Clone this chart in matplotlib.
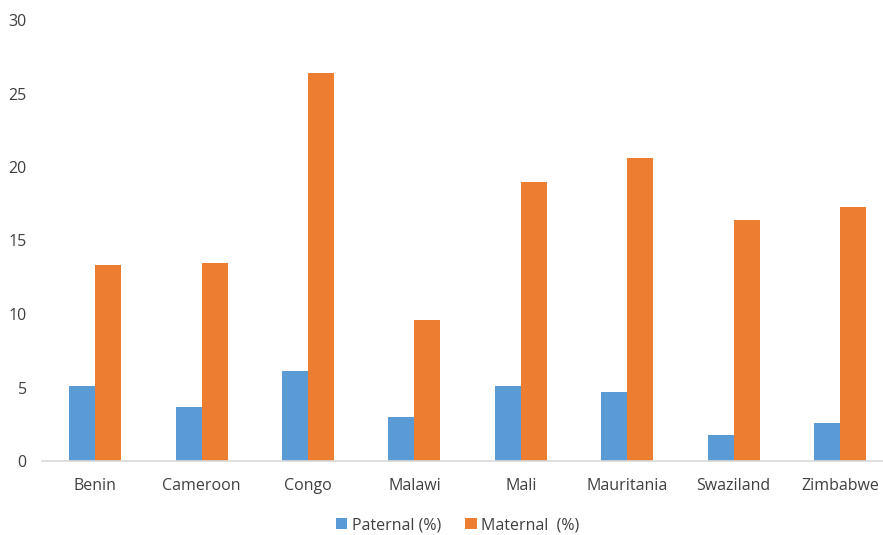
import matplotlib.pyplot as plt
import numpy as np

# Data
countries = ['Benin', 'Cameroon', 'Congo', 'Malawi', 'Mali',
             'Mauritania', 'Swaziland', 'Zimbabwe']
paternal = [5.1, 3.7, 6.1, 3.0, 5.1, 4.7, 1.8, 2.6]
maternal = [13.3, 13.5, 26.4, 9.6, 19.0, 20.6, 16.4, 17.3]

# Style
plt.rcParams['font.family'] = ['Open Sans', 'DejaVu Sans']
plt.rcParams['font.size'] = 11.5
txt_c = '#404040'
c_pat = '#5B9BD5'
c_mat = '#ED7D31'
bw = 0.245

fig = plt.figure(figsize=(8.83, 5.35), dpi=100)
# axes placed in figure pixels: left 42, right 883, bottom 461, top 20
ax = fig.add_axes([42/883, (535-461)/535, (883-42)/883, (461-20)/535])

x = np.arange(len(countries))
ax.bar(x - bw/2, paternal, bw, color=c_pat, label='Paternal (%)')
ax.bar(x + bw/2, maternal, bw, color=c_mat, label='Maternal  (%)')

ax.set_xlim(-0.5, -0.5 + (883-42)/106.4)
ax.set_ylim(0, 30)
ax.set_yticks(range(0, 31, 5))
ax.set_xticks(x)
ax.set_xticklabels(countries)

for s in ['top', 'right', 'left']:
    ax.spines[s].set_visible(False)
ax.spines['bottom'].set_color('#D9D9D9')
ax.spines['bottom'].set_linewidth(1.2)
ax.tick_params(axis='both', length=0, colors=txt_c, labelsize=11.5)
ax.tick_params(axis='y', pad=11)
ax.tick_params(axis='x', pad=12)

leg = fig.legend(loc='center', bbox_to_anchor=(458/883, (535-525)/535),
                 ncol=2, frameon=False, handlelength=0.7, handleheight=0.7,
                 handletextpad=0.3, columnspacing=1.5, fontsize=11.5)
for t in leg.get_texts():
    t.set_color(txt_c)

fig.savefig('out.png', dpi=100)
